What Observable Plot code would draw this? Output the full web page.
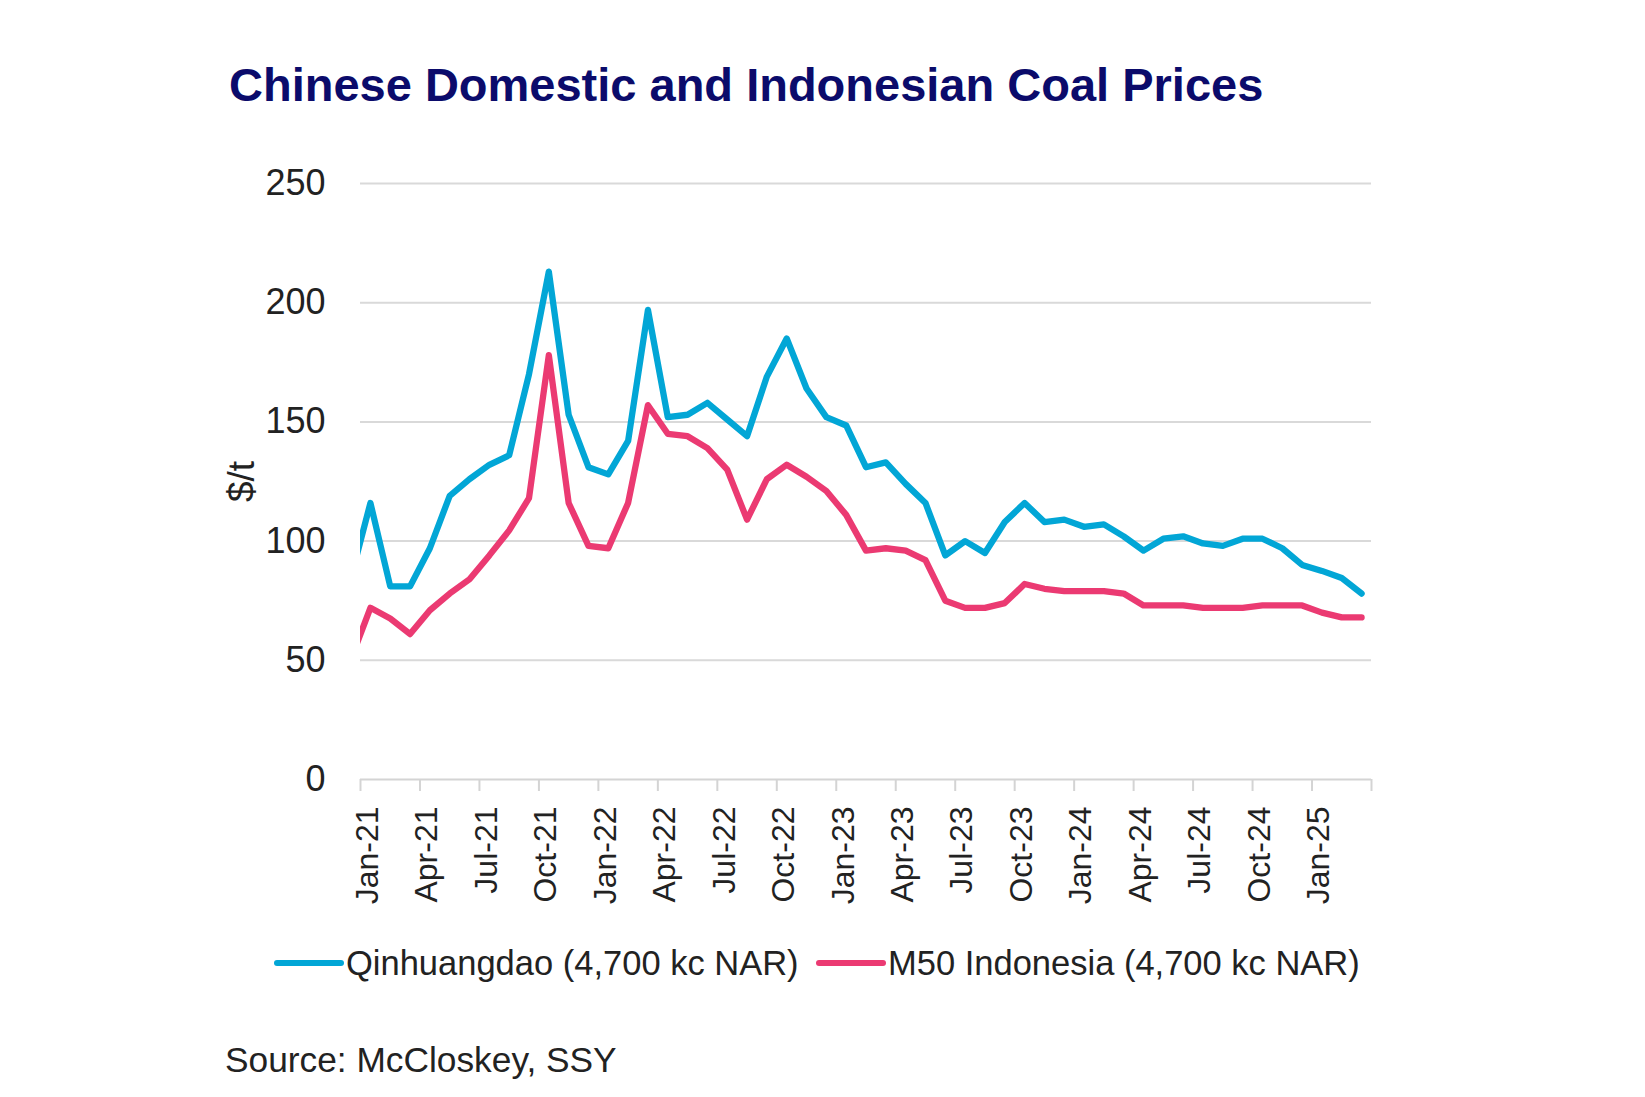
<!DOCTYPE html>
<html><head><meta charset="utf-8">
<script src="https://cdn.jsdelivr.net/npm/d3@7"></script>
<script src="https://cdn.jsdelivr.net/npm/@observablehq/plot@0.6"></script>
<style>
body{margin:0;background:#fff;font-family:"Liberation Sans",Arial,sans-serif;}
#wrap{position:relative;width:1645px;height:1097px;background:#fff;}
#title{position:absolute;left:229px;top:61px;font-size:47px;line-height:1;font-weight:bold;color:#0b0b6b;white-space:nowrap;}
#chart{position:absolute;left:0;top:140px;}
.leg{position:absolute;top:946px;height:34px;display:flex;align-items:center;font-size:34.5px;line-height:34px;color:#222;white-space:nowrap;}
.sw{width:70px;height:6px;border-radius:3px;margin-right:2px;}
#source{position:absolute;left:225px;top:1042px;font-size:35.3px;line-height:1;color:#222;white-space:nowrap;}
</style></head>
<body>
<div id="wrap">
  <div id="title"></div>
  <div id="chart"></div>
  <div id="leg1" class="leg" style="left:274px"><div class="sw"></div><span></span></div>
  <div id="leg2" class="leg" style="left:816px"><div class="sw"></div><span></span></div>
  <div id="source"></div>
</div>
<script>
const title = "Chinese Domestic and Indonesian Coal Prices";
const source = "Source: McCloskey, SSY";
const yLabel = "$/t";
const seriesNames = ["Qinhuangdao (4,700 kc NAR)", "M50 Indonesia (4,700 kc NAR)"];
const seriesColors = ["#02a6d6", "#eb3a72"];

const months = [
  "Dec-20",
  "Jan-21","Feb-21","Mar-21","Apr-21","May-21","Jun-21","Jul-21","Aug-21","Sep-21","Oct-21","Nov-21","Dec-21",
  "Jan-22","Feb-22","Mar-22","Apr-22","May-22","Jun-22","Jul-22","Aug-22","Sep-22","Oct-22","Nov-22","Dec-22",
  "Jan-23","Feb-23","Mar-23","Apr-23","May-23","Jun-23","Jul-23","Aug-23","Sep-23","Oct-23","Nov-23","Dec-23",
  "Jan-24","Feb-24","Mar-24","Apr-24","May-24","Jun-24","Jul-24","Aug-24","Sep-24","Oct-24","Nov-24","Dec-24",
  "Jan-25","Feb-25","Mar-25"
];

const qhd = [
  84,
  116, 81, 81, 97, 119, 126, 132, 136, 170, 213, 153, 131,
  128, 142, 197, 152, 153, 158, 151, 144, 169, 185, 164, 152,
  148.5, 131, 133, 124, 116, 94, 100, 95, 108, 116, 108, 109,
  106, 107, 102, 96, 101, 102, 99, 98, 101, 101, 97, 90,
  87.5, 84.5, 78
];

const m50 = [
  50,
  72, 67.5, 61, 71, 78, 84, 94, 104.5, 118, 178, 116, 98,
  97, 116, 157, 145, 144, 139, 130, 109, 126, 132, 127, 121,
  111, 96, 97, 96, 92, 75, 72, 72, 74, 82, 80, 79,
  79, 79, 78, 73, 73, 73, 72, 72, 72, 73, 73, 73,
  70, 68, 68
];

const tickLabels = ["Jan-21","Apr-21","Jul-21","Oct-21","Jan-22","Apr-22","Jul-22","Oct-22",
  "Jan-23","Apr-23","Jul-23","Oct-23","Jan-24","Apr-24","Jul-24","Oct-24","Jan-25"];
const yTicks = [0, 50, 100, 150, 200, 250];

// month slot: Jan-21 starts at 0; each point sits mid-month
const rows = [];
months.forEach((m, i) => {
  rows.push({month: m, t: i - 0.5, v: qhd[i], s: seriesNames[0]});
});
months.forEach((m, i) => {
  rows.push({month: m, t: i - 0.5, v: m50[i], s: seriesNames[1]});
});
const labelPos = tickLabels.map(l => months.indexOf(l) - 1);
const xEnd = months.length - 1;
const tickPos = [...labelPos, xEnd];
const labelAt = new Map(labelPos.map((p, k) => [p, tickLabels[k]]));

const chart = Plot.plot({
  width: 1645,
  height: 790,
  marginLeft: 360,
  marginRight: 274,
  marginTop: 43,
  marginBottom: 151,
  style: {fontFamily: '"Liberation Sans", Arial, sans-serif', background: "white"},
  x: {type: "linear", domain: [0, xEnd], axis: null},
  y: {domain: [0, 250], axis: null},
  color: {domain: seriesNames, range: seriesColors},
  marks: [
    Plot.ruleY(yTicks.filter(d => d > 0), {stroke: "#d9d9d9", strokeWidth: 2}),
    Plot.ruleY([0], {stroke: "#d4d4d4", strokeWidth: 2}),
    Plot.axisX({ticks: tickPos, tickSize: 12, tickFormat: () => "", stroke: "#d4d4d4", strokeWidth: 2, label: null}),
    Plot.axisX({ticks: labelPos, tickSize: 0, tickPadding: 27, tickRotate: -90, dx: 7,
      tickFormat: d => labelAt.get(d) ?? "", fontSize: 32, fill: "#222", label: null}),
    Plot.axisY({ticks: yTicks, tickSize: 0, tickPadding: 35, fontSize: 36, fill: "#222", label: null, tickFormat: d => String(d)}),
    Plot.text([yLabel], {frameAnchor: "left", textAnchor: "middle", dx: -118, rotate: -90, fontSize: 37, fill: "#222"}),
    Plot.line(rows, {x: "t", y: "v", z: "s", stroke: "s", strokeWidth: 6.3,
      strokeLinejoin: "round", strokeLinecap: "round", clip: true})
  ]
});
document.getElementById("chart").appendChild(chart);
document.getElementById("title").textContent = title;
document.getElementById("source").textContent = source;
["leg1","leg2"].forEach((id, k) => {
  const el = document.getElementById(id);
  el.querySelector(".sw").style.background = seriesColors[k];
  el.querySelector("span").textContent = seriesNames[k];
});
</script>
</body></html>
